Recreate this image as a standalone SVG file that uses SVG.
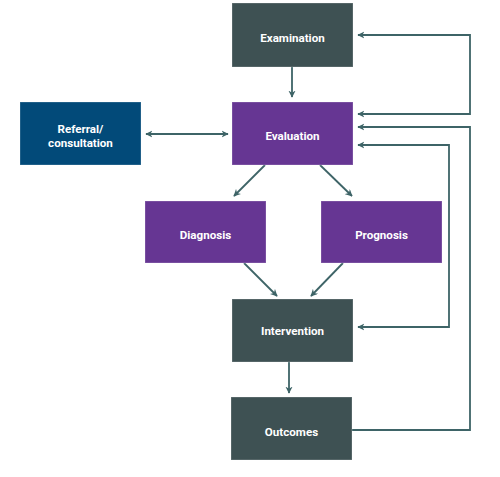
<svg xmlns="http://www.w3.org/2000/svg" width="500" height="477" viewBox="0 0 500 477">
<style>
.box{stroke:#ffffff;stroke-opacity:0.25;stroke-width:1}
.slate{fill:#3e5153}
.purple{fill:#663693}
.blue{fill:#024a79}
.lbl{fill:#ffffff;font-family:Roboto,"Liberation Sans",sans-serif;font-weight:bold;font-size:11.6px;text-anchor:middle}
.con{fill:none;stroke:#3e6467;stroke-width:1.8}
</style>
<defs>
<marker id="ah" viewBox="0 0 10 10" refX="9" refY="5" markerWidth="4" markerHeight="4" orient="auto-start-reverse" markerUnits="strokeWidth">
<path d="M0,0 L10,5 L0,10 L3,5 Z" fill="#3e6467"/>
</marker>
</defs>
<rect width="500" height="477" fill="#ffffff"/>
<g id="connectors">
<path class="con" d="M292,67 V97" marker-end="url(#ah)"/>
<path class="con" d="M146,134 H228" marker-start="url(#ah)" marker-end="url(#ah)"/>
<path class="con" d="M265,165 L234,196" marker-end="url(#ah)"/>
<path class="con" d="M320,165 L352,196" marker-end="url(#ah)"/>
<path class="con" d="M244,263 L277,296" marker-end="url(#ah)"/>
<path class="con" d="M343,263 L311,296" marker-end="url(#ah)"/>
<path class="con" d="M289,362 V393" marker-end="url(#ah)"/>
<path class="con" d="M358,35 H470 V114 H358" marker-start="url(#ah)" marker-end="url(#ah)"/>
<path class="con" d="M352,430 H470 V127 H358" marker-end="url(#ah)"/>
<path class="con" d="M358,145 H449 V327 H358" marker-start="url(#ah)" marker-end="url(#ah)"/>
</g>
<g id="examination"><rect class="box slate" x="232" y="3" width="121" height="64"/><text class="lbl" x="292.5" y="42">Examination</text></g>
<g id="evaluation"><rect class="box purple" x="232" y="102" width="121" height="63"/><text class="lbl" x="292.5" y="140">Evaluation</text></g>
<g id="referral"><rect class="box blue" x="20" y="102" width="121" height="63"/><text class="lbl" x="80.5" y="133">Referral/</text><text class="lbl" x="80.5" y="147">consultation</text></g>
<g id="diagnosis"><rect class="box purple" x="145" y="201" width="121" height="62"/><text class="lbl" x="205.5" y="239">Diagnosis</text></g>
<g id="prognosis"><rect class="box purple" x="321" y="201" width="121" height="62"/><text class="lbl" x="381.5" y="239">Prognosis</text></g>
<g id="intervention"><rect class="box slate" x="232" y="299" width="121" height="63"/><text class="lbl" x="292.5" y="335">Intervention</text></g>
<g id="outcomes"><rect class="box slate" x="231" y="397" width="121" height="63"/><text class="lbl" x="291.5" y="436">Outcomes</text></g>
</svg>
